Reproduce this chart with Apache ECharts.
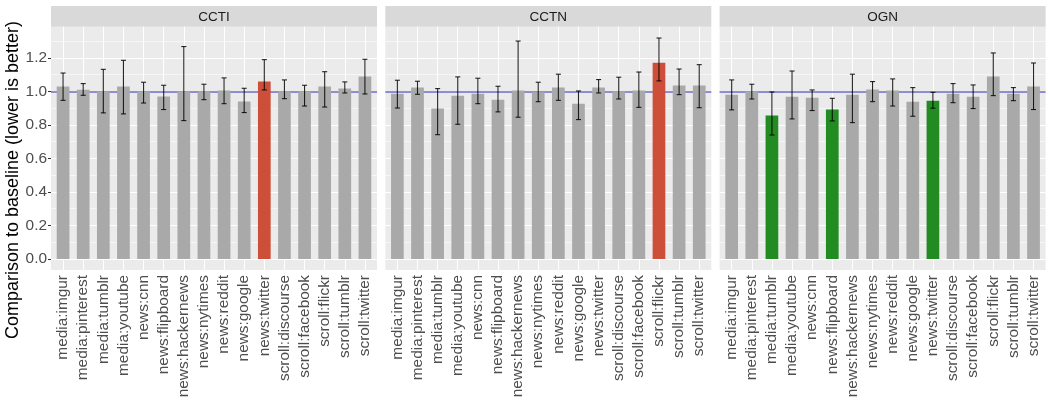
<!DOCTYPE html>
<html><head><meta charset="utf-8">
<script src="https://cdn.jsdelivr.net/npm/echarts@6/dist/echarts.min.js"></script>
<style>html,body{margin:0;padding:0;background:#fff}#c{width:1048px;height:402px}</style>
</head><body><div id="c"></div>
<script>
const categories = ['media:imgur','media:pinterest','media:tumblr','media:youtube','news:cnn','news:flipboard','news:hackernews','news:nytimes','news:reddit','news:google','news:twitter','scroll:discourse','scroll:facebook','scroll:flickr','scroll:tumblr','scroll:twitter'];
const panels = ['CCTI','CCTN','OGN'];
const yTicks = [0,0.2,0.4,0.6,0.8,1.0,1.2];
const yMinorTicks = [0.1,0.3,0.5,0.7,0.9,1.1,1.3];
const baseline = 1.0;
const yTitle = 'Comparison to baseline (lower is better)';

const ccti_mean = [1.03,1.01,1.00,1.03,1.00,0.97,1.00,1.00,1.005,0.94,1.06,1.00,1.00,1.03,1.017,1.09];
const ccti_low  = [0.947,0.977,0.872,0.866,0.931,0.892,0.826,0.951,0.927,0.874,1.009,0.957,0.913,0.907,0.991,0.985];
const ccti_high = [1.110,1.047,1.132,1.186,1.055,1.037,1.268,1.043,1.081,1.019,1.190,1.069,1.037,1.118,1.057,1.192];

const cctn_mean = [0.987,1.023,0.898,0.975,0.987,0.951,1.005,0.995,1.023,0.927,1.023,0.999,1.005,1.172,1.035,1.035];
const cctn_low  = [0.901,0.983,0.742,0.804,0.927,0.878,0.846,0.939,0.947,0.832,0.991,0.955,0.905,1.063,0.981,0.903];
const cctn_high = [1.067,1.061,1.017,1.087,1.079,1.031,1.301,1.055,1.103,1.003,1.071,1.085,1.116,1.319,1.134,1.160];

const ogn_mean = [0.981,0.999,0.856,0.969,0.963,0.892,0.981,1.011,1.005,0.939,0.945,0.987,0.969,1.089,0.987,1.029];
const ogn_low  = [0.890,0.955,0.740,0.836,0.886,0.824,0.814,0.939,0.913,0.852,0.900,0.933,0.898,0.975,0.945,0.892];
const ogn_high = [1.069,1.043,0.997,1.122,1.009,0.959,1.103,1.059,1.075,1.023,0.995,1.047,1.039,1.230,1.023,1.170];

const ccti_worse = ['news:twitter'];
const ccti_better = [];
const cctn_worse = ['scroll:flickr'];
const cctn_better = [];
const ogn_worse = [];
const ogn_better = ['media:tumblr','news:flipboard','news:twitter'];

const panelData = [
  {mean: ccti_mean, low: ccti_low, high: ccti_high, worse: ccti_worse, better: ccti_better},
  {mean: cctn_mean, low: cctn_low, high: cctn_high, worse: cctn_worse, better: cctn_better},
  {mean: ogn_mean, low: ogn_low, high: ogn_high, worse: ogn_worse, better: ogn_better}
];

const COL_BAR = '#A9A9A9', COL_WORSE = '#CD4F39', COL_BETTER = '#228B22';
const panelLefts = [51, 385.3, 719.6];
const panelW = 326, panelTop = 26.7, panelH = 243.3, stripTop = 6;
const yMin = -0.066, yMax = 1.3866;
const idx = categories.map((c, i) => i + 1);

const grids = [], xAxes = [], yAxes = [], series = [], graphics = [];
panels.forEach((name, p) => {
  const d = panelData[p];
  grids.push({left: panelLefts[p], top: panelTop, width: panelW, height: panelH,
    show: true, backgroundColor: '#EBEBEB', borderWidth: 0});
  xAxes.push({type: 'value', gridIndex: p, min: 0.4, max: 16.6,
    splitLine: {show: false}, axisLine: {show: false},
    axisTick: {show: true, customValues: idx, length: 3, lineStyle: {color: '#333', width: 1}},
    axisLabel: {show: true, customValues: idx, rotate: 90, margin: 5,
      formatter: v => categories[Math.round(v) - 1] || '',
      fontSize: 15.4, color: '#4D4D4D', fontFamily: 'Liberation Sans'}});
  yAxes.push({type: 'value', gridIndex: p, min: yMin, max: yMax,
    splitLine: {show: false}, axisLine: {show: false},
    axisTick: {show: p === 0, customValues: yTicks, length: 3, lineStyle: {color: '#333', width: 1}},
    axisLabel: {show: p === 0, customValues: yTicks, margin: 4, formatter: v => v.toFixed(1),
      fontSize: 15.4, color: '#4D4D4D', fontFamily: 'Liberation Sans'}});
  const gl = [];
  yMinorTicks.forEach(v => gl.push({yAxis: v, lineStyle: {color: '#fff', width: 0.55, type: 'solid'}}));
  yTicks.forEach(v => gl.push({yAxis: v, lineStyle: {color: '#fff', width: 1.1, type: 'solid'}}));
  idx.forEach(v => gl.push({xAxis: v, lineStyle: {color: '#fff', width: 1.1, type: 'solid'}}));
  gl.push({yAxis: baseline, lineStyle: {color: '#6B6BC8', width: 1.6, type: 'solid'}});
  series.push({type: 'line', xAxisIndex: p, yAxisIndex: p, data: [], silent: true, z: 1,
    markLine: {silent: true, symbol: 'none', z: 1, animation: false, label: {show: false}, data: gl}});
  series.push({type: 'bar', xAxisIndex: p, yAxisIndex: p, barWidth: 12.7, z: 2, animation: false,
    data: d.mean.map((v, i) => {
      const c = categories[i];
      const col = d.worse.includes(c) ? COL_WORSE : (d.better.includes(c) ? COL_BETTER : COL_BAR);
      return {value: [i + 1, v], itemStyle: {color: col}};
    })});
  series.push({type: 'custom', xAxisIndex: p, yAxisIndex: p, z: 3, animation: false, silent: true,
    encode: {x: 0, y: [1, 2]},
    data: d.low.map((lo, i) => [i + 1, lo, d.high[i]]),
    renderItem: (params, api) => {
      const x = api.value(0), lo = api.value(1), hi = api.value(2);
      const a = api.coord([x, hi]), b = api.coord([x, lo]);
      const half = api.size([0.25, 0])[0] / 2;
      const st = {stroke: 'rgba(0,0,0,0.85)', lineWidth: 1.1};
      return {type: 'group', children: [
        {type: 'line', shape: {x1: a[0], y1: a[1], x2: b[0], y2: b[1]}, style: st},
        {type: 'line', shape: {x1: a[0] - half, y1: a[1], x2: a[0] + half, y2: a[1]}, style: st},
        {type: 'line', shape: {x1: b[0] - half, y1: b[1], x2: b[0] + half, y2: b[1]}, style: st}
      ]};
    }});
  graphics.push({type: 'rect', left: panelLefts[p], top: stripTop,
    shape: {width: panelW, height: panelTop - stripTop}, style: {fill: '#D9D9D9'}, silent: true});
  graphics.push({type: 'text', x: panelLefts[p] + panelW / 2, y: (stripTop + panelTop) / 2 + 0.5,
    style: {text: name, textAlign: 'center', textVerticalAlign: 'middle', fontSize: 13.5,
      fill: '#1A1A1A', fontFamily: 'Liberation Sans'}, silent: true});
});
graphics.push({type: 'text', x: 13.5, y: 180, rotation: Math.PI / 2,
  style: {text: yTitle, textAlign: 'center', textVerticalAlign: 'middle', fontSize: 18,
    fill: '#000', fontFamily: 'Liberation Sans'}, silent: true});

const chart = echarts.init(document.getElementById('c'), null, {renderer: 'canvas'});
chart.setOption({animation: false, backgroundColor: '#fff', grid: grids, xAxis: xAxes, yAxis: yAxes,
  series: series, graphic: graphics});
</script></body></html>
